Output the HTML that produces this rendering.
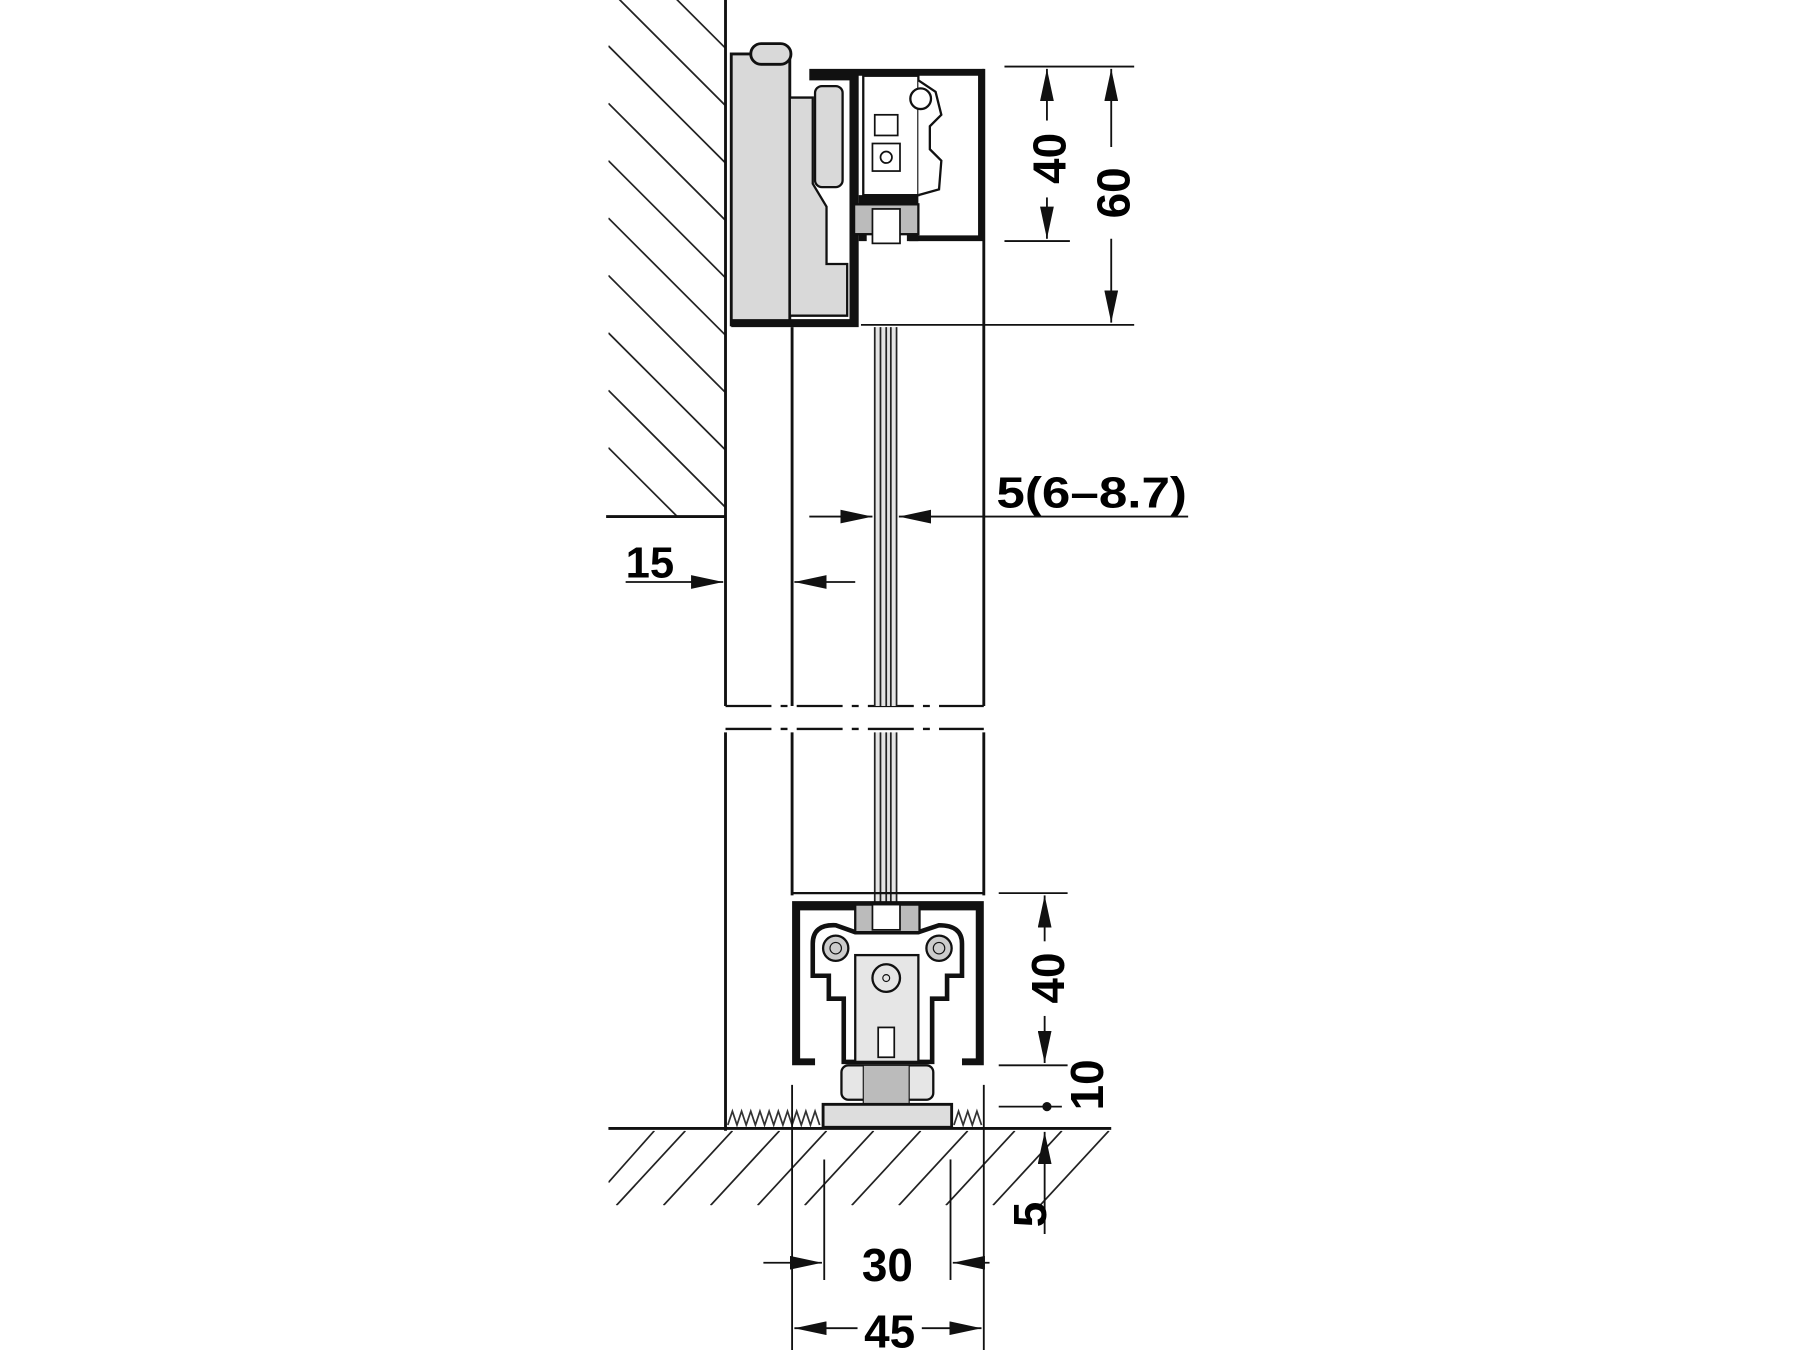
<!DOCTYPE html>
<html><head><meta charset="utf-8"><style>html,body{margin:0;padding:0;background:#fff}svg{display:block}</style></head>
<body>
<svg width="1800" height="1350" viewBox="0 0 1568 1176" xmlns="http://www.w3.org/2000/svg" font-family="Liberation Sans, sans-serif" font-weight="bold">
<defs>
<marker id="a" markerUnits="userSpaceOnUse" markerWidth="30" markerHeight="12" refX="28" refY="6" orient="auto"><path d="M0,0 L28,6 L0,12 Z" fill="#111"/></marker>
<clipPath id="wc"><rect x="530" y="0" width="102" height="450"/></clipPath>
<clipPath id="fc"><polygon points="530,985 968,985 918,1050 530,1050"/></clipPath>
</defs>
<rect width="1568" height="1176" fill="#fff"/>
<g clip-path="url(#wc)" stroke="#222" stroke-width="1.5">
<line x1="530" y1="-60" x2="640" y2="50"/><line x1="530" y1="-10" x2="640" y2="100"/><line x1="530" y1="40" x2="640" y2="150"/><line x1="530" y1="90" x2="640" y2="200"/><line x1="530" y1="140" x2="640" y2="250"/><line x1="530" y1="190" x2="640" y2="300"/><line x1="530" y1="240" x2="640" y2="350"/><line x1="530" y1="290" x2="640" y2="400"/><line x1="530" y1="340" x2="640" y2="450"/><line x1="530" y1="390" x2="640" y2="500"/>
</g>
<g stroke="#111" fill="none" stroke-width="2.5">
<line x1="632" y1="0" x2="632" y2="615"/>
<line x1="528" y1="450" x2="632" y2="450"/>
<line x1="690" y1="285" x2="690" y2="615"/>
<line x1="857" y1="60" x2="857" y2="615"/>
<line x1="632" y1="638" x2="632" y2="985"/>
<line x1="690" y1="638" x2="690" y2="780"/>
<line x1="857" y1="638" x2="857" y2="780"/>
</g>
<g stroke="#111" stroke-width="2" stroke-dasharray="40,8,6,8">
<line x1="632" y1="615" x2="857" y2="615"/><line x1="632" y1="635" x2="857" y2="635"/>
</g>
<rect x="762" y="285" width="19" height="330" fill="#e4e4e4"/>
<rect x="762" y="638" width="19" height="150" fill="#e4e4e4"/>
<g stroke="#222" stroke-width="1.5">
<line x1="762" y1="285" x2="762" y2="615"/><line x1="767" y1="285" x2="767" y2="615"/><line x1="772" y1="285" x2="772" y2="615"/><line x1="776" y1="285" x2="776" y2="615"/><line x1="781" y1="285" x2="781" y2="615"/>
<line x1="762" y1="638" x2="762" y2="790"/><line x1="767" y1="638" x2="767" y2="790"/><line x1="772" y1="638" x2="772" y2="790"/><line x1="776" y1="638" x2="776" y2="790"/><line x1="781" y1="638" x2="781" y2="790"/>
</g>
<rect x="637" y="47" width="51" height="236" fill="#d9d9d9" stroke="#111" stroke-width="2.5"/>
<rect x="654" y="38" width="35" height="18" rx="9" fill="#d9d9d9" stroke="#111" stroke-width="2.5"/>
<path d="M688,85 L708,85 L708,160 L720,180 L720,230 L738,230 L738,275 L688,275 Z" fill="#d9d9d9" stroke="#111" stroke-width="2"/>
<rect x="710" y="75" width="24" height="88" rx="6" fill="#d9d9d9" stroke="#111" stroke-width="2"/>
<path d="M705,60 L857,60 L857,210 L792,210 L792,205 L852,205 L852,66 L748,66 L748,285 L637,285 L637,278 L740,278 L740,70 L705,70 Z" fill="#111"/>
<path d="M748,170 L800,170 L800,210 L790,210 L790,180 L755,180 L755,210 L748,210 Z" fill="#111"/>
<rect x="752" y="66" width="48" height="104" fill="#fff" stroke="#111" stroke-width="2"/>
<rect x="762" y="100" width="20" height="18" fill="#fff" stroke="#111" stroke-width="1.5"/>
<rect x="760" y="125" width="24" height="24" fill="#fff" stroke="#111" stroke-width="1.5"/><circle cx="772" cy="137" r="5" fill="none" stroke="#111" stroke-width="1.5"/>
<path d="M800,70 L815,80 L820,100 L810,110 L810,130 L820,140 L818,165 L800,170" fill="#fff" stroke="#111" stroke-width="2"/>
<circle cx="802" cy="86" r="9" fill="#fff" stroke="#111" stroke-width="2"/>
<rect x="744" y="178" width="56" height="26" fill="#bbb" stroke="#111" stroke-width="2"/>
<rect x="760" y="182" width="24" height="30" fill="#fff" stroke="#111" stroke-width="1.5"/>
<g stroke="#111" stroke-width="1.6">
<line x1="875" y1="58" x2="988" y2="58"/><line x1="875" y1="210" x2="932" y2="210"/><line x1="750" y1="283" x2="988" y2="283"/>
<line x1="912" y1="105" x2="912" y2="60" marker-end="url(#a)"/><line x1="912" y1="172" x2="912" y2="208" marker-end="url(#a)"/>
<line x1="968" y1="128" x2="968" y2="60" marker-end="url(#a)"/><line x1="968" y1="208" x2="968" y2="281" marker-end="url(#a)"/>
</g>
<text transform="translate(928,138) rotate(-90)" font-size="40" text-anchor="middle">40</text>
<text transform="translate(984,168) rotate(-90)" font-size="40" text-anchor="middle">60</text>
<text x="868" y="442" font-size="38" textLength="166" lengthAdjust="spacingAndGlyphs">5(6–8.7)</text>
<g stroke="#111" stroke-width="1.6">
<line x1="705" y1="450" x2="760" y2="450" marker-end="url(#a)"/>
<line x1="1035" y1="450" x2="783" y2="450" marker-end="url(#a)"/>
<line x1="545" y1="507" x2="630" y2="507" marker-end="url(#a)"/>
<line x1="745" y1="507" x2="692" y2="507" marker-end="url(#a)"/>
</g>
<text x="545" y="503" font-size="38">15</text>
<line x1="690" y1="778" x2="857" y2="778" stroke="#111" stroke-width="2"/>
<path d="M690,785 L857,785 L857,928 L838,928 L838,922 L850,922 L850,793 L800,793 L800,812 L745,812 L745,793 L697,793 L697,922 L710,922 L710,928 L690,928 Z" fill="#111"/>
<path d="M708,822 Q708,805 728,806 L745,812 L800,812 L818,806 Q838,806 838,822 L838,850 L825,850 L825,870 L812,870 L812,925 L735,925 L735,870 L722,870 L722,850 L708,850 Z" fill="#fff" stroke="#111" stroke-width="4"/>
<rect x="745" y="788" width="56" height="24" fill="#bbb" stroke="#111" stroke-width="2"/>
<rect x="760" y="788" width="24" height="22" fill="#fff" stroke="#111" stroke-width="1.5"/>
<circle cx="728" cy="826" r="11" fill="#ccc" stroke="#111" stroke-width="2"/><circle cx="728" cy="826" r="5" fill="none" stroke="#111"/>
<circle cx="818" cy="826" r="11" fill="#ccc" stroke="#111" stroke-width="2"/><circle cx="818" cy="826" r="5" fill="none" stroke="#111"/>
<rect x="745" y="832" width="55" height="93" fill="#e6e6e6" stroke="#111" stroke-width="2"/>
<circle cx="772" cy="852" r="12" fill="#e6e6e6" stroke="#111" stroke-width="2"/><circle cx="772" cy="852" r="3" fill="none" stroke="#111"/>
<rect x="765" y="895" width="14" height="26" fill="#fff" stroke="#111" stroke-width="1.5"/>
<rect x="733" y="928" width="80" height="30" rx="6" fill="#e6e6e6" stroke="#111" stroke-width="2"/>
<rect x="752" y="928" width="40" height="34" fill="#bbb" stroke="#111" stroke-width="1"/>
<rect x="717" y="962" width="112" height="20" fill="#ddd" stroke="#111" stroke-width="2.5"/>
<g stroke="#333" stroke-width="1.5" fill="none"><path d="M634,980 l4,-12 l4,12 l4,-12 l4,12 l4,-12 l4,12 l4,-12 l4,12 l4,-12 l4,12 l4,-12 l4,12 l4,-12 l4,12 l4,-12 l4,12 l4,-12 l4,12 l4,-12 l4,12"/><path d="M831,980 l4,-12 l4,12 l4,-12 l4,12 l4,-12 l4,12"/></g>
<line x1="530" y1="983" x2="968" y2="983" stroke="#111" stroke-width="2.5"/>
<g clip-path="url(#fc)" stroke="#222" stroke-width="1.5">
<line x1="530" y1="1030" x2="570" y2="985"/><line x1="537" y1="1050" x2="597" y2="985"/><line x1="578" y1="1050" x2="638" y2="985"/><line x1="619" y1="1050" x2="679" y2="985"/><line x1="660" y1="1050" x2="720" y2="985"/><line x1="701" y1="1050" x2="761" y2="985"/><line x1="742" y1="1050" x2="802" y2="985"/><line x1="783" y1="1050" x2="843" y2="985"/><line x1="824" y1="1050" x2="884" y2="985"/><line x1="865" y1="1050" x2="925" y2="985"/><line x1="906" y1="1050" x2="966" y2="985"/>
</g>
<g stroke="#111" stroke-width="1.6">
<line x1="690" y1="945" x2="690" y2="1176"/><line x1="857" y1="945" x2="857" y2="1176"/>
<line x1="718" y1="1010" x2="718" y2="1115"/><line x1="828" y1="1010" x2="828" y2="1115"/>
<line x1="665" y1="1100" x2="716" y2="1100" marker-end="url(#a)"/><line x1="862" y1="1100" x2="830" y2="1100" marker-end="url(#a)"/>
<line x1="747" y1="1157" x2="692" y2="1157" marker-end="url(#a)"/><line x1="803" y1="1157" x2="855" y2="1157" marker-end="url(#a)"/>
<line x1="870" y1="778" x2="930" y2="778"/><line x1="870" y1="928" x2="930" y2="928"/><line x1="870" y1="964" x2="925" y2="964"/>
<line x1="910" y1="820" x2="910" y2="780" marker-end="url(#a)"/><line x1="910" y1="885" x2="910" y2="926" marker-end="url(#a)"/>
<line x1="910" y1="1075" x2="910" y2="986" marker-end="url(#a)"/>
</g>
<circle cx="912" cy="964" r="4" fill="#111"/>
<text x="773" y="1116" font-size="40" text-anchor="middle">30</text>
<text x="775" y="1174" font-size="40" text-anchor="middle">45</text>
<text transform="translate(927,852) rotate(-90)" font-size="40" text-anchor="middle">40</text>
<text transform="translate(961,945) rotate(-90)" font-size="40" text-anchor="middle">10</text>
<text transform="translate(911,1058) rotate(-90)" font-size="40" text-anchor="middle">5</text>
</svg>
</body></html>
